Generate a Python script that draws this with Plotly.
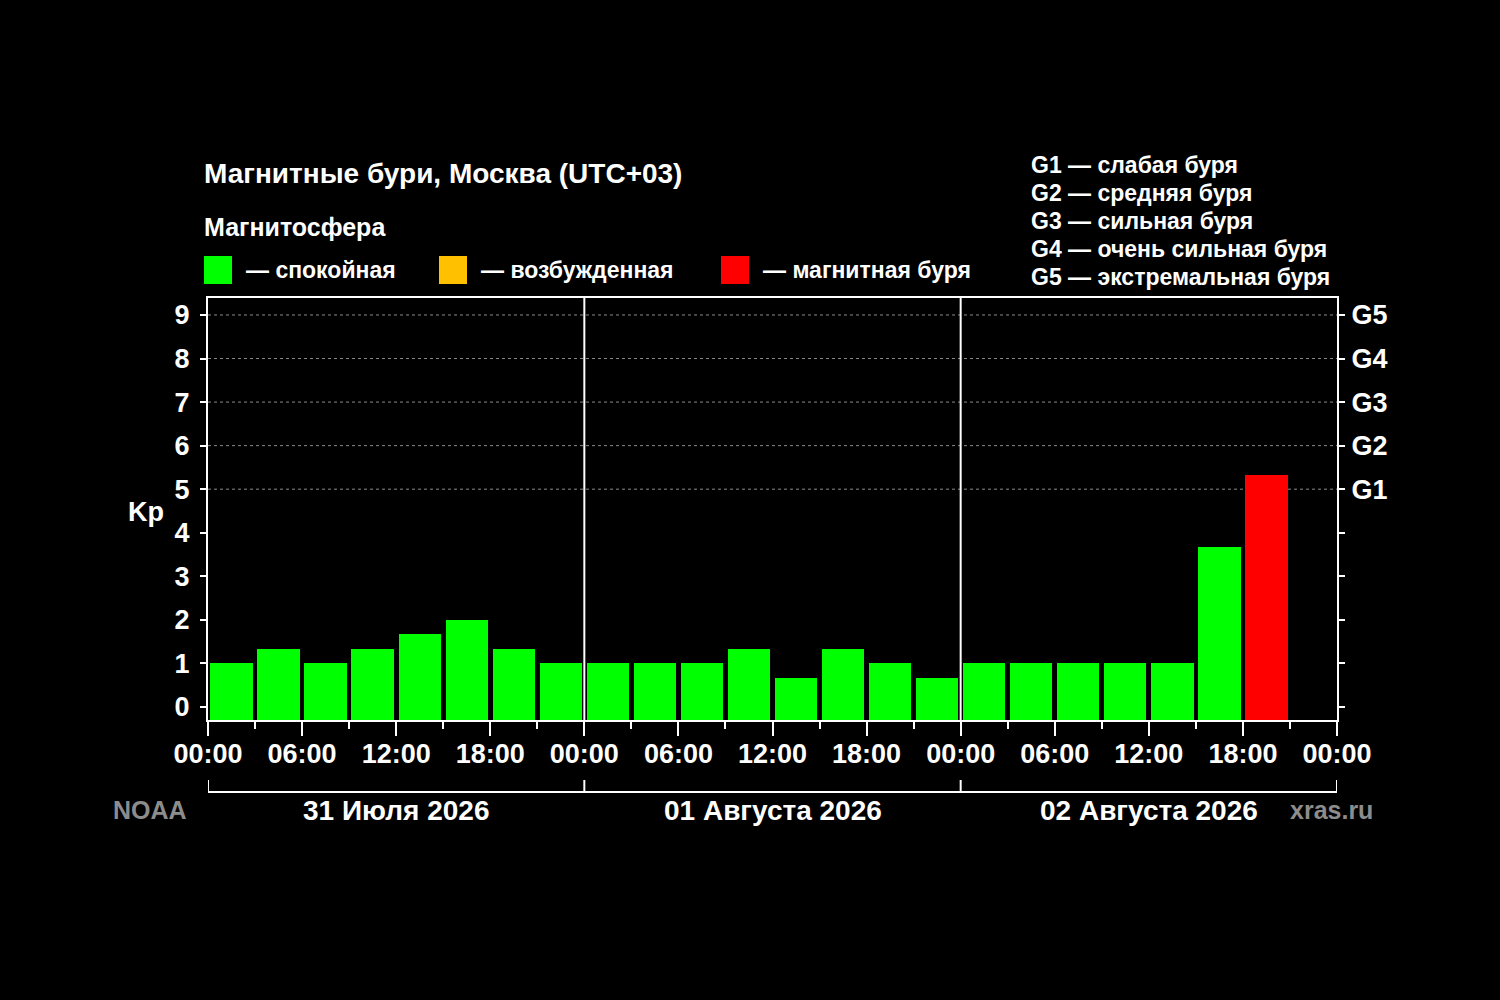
import plotly.graph_objects as go

# Kp index, 3-hour intervals, Moscow time (UTC+03)
kp_day1 = [1, 1.33, 1, 1.33, 1.67, 2, 1.33, 1]
kp_day2 = [1, 1, 1, 1.33, 0.67, 1.33, 1, 0.67]
kp_day3 = [1, 1, 1, 1, 1, 3.67, 5.33]
days = ["31 Июля 2026", "01 Августа 2026", "02 Августа 2026"]
hour_labels = ["00:00", "06:00", "12:00", "18:00"]
g_levels = ["G1", "G2", "G3", "G4", "G5"]
g_desc = ["слабая буря", "средняя буря", "сильная буря",
          "очень сильная буря", "экстремальная буря"]
legend_items = ["— спокойная", "— возбужденная", "— магнитная буря"]

GREEN = "#00ff00"
ORANGE = "#ffc000"
RED = "#ff0000"
FONT = "Liberation Sans, Arial, sans-serif"
Y_MIN, Y_MAX = -0.3, 9.39

# plot area in pixels
L, R, T, B = 208, 1337, 298, 720


def px(x):
    return (x - L) / (R - L)


def py(y):
    return (B - y) / (B - T)


kp = kp_day1 + kp_day2 + kp_day3
hours = [3 * i + 1.5 for i in range(len(kp))]
colors = [RED if v >= 5 else ORANGE if v >= 4 else GREEN for v in kp]

fig = go.Figure()
fig.add_trace(go.Bar(
    x=hours, y=[v - Y_MIN for v in kp], base=Y_MIN, width=2.7,
    marker=dict(color=colors, line=dict(width=0)),
    showlegend=False, hoverinfo="skip",
))
# invisible trace so the right axis is drawn
fig.add_trace(go.Scatter(x=[0], y=[0], yaxis="y2", mode="markers",
                         marker=dict(opacity=0), showlegend=False,
                         hoverinfo="skip"))

tick_font = dict(family=FONT, size=27, color="white", weight="bold")

xt = list(range(0, 73, 6))
xtext = [hour_labels[(v // 6) % 4] for v in xt]

fig.update_layout(
    width=1500, height=1000,
    paper_bgcolor="black", plot_bgcolor="black",
    margin=dict(l=L, r=1500 - R, t=T, b=1000 - B),
    bargap=0,
    xaxis=dict(
        range=[0, 72], tickvals=xt, ticktext=xtext,
        ticks="outside", ticklen=14, tickwidth=2, tickcolor="white",
        ticklabelstandoff=-5,
        minor=dict(dtick=3, tick0=0, ticks="outside", ticklen=7,
                   tickwidth=2, tickcolor="white"),
        showgrid=False, zeroline=False,
        showline=True, linecolor="white", linewidth=2, mirror=True,
        tickfont=tick_font,
    ),
    yaxis=dict(
        range=[Y_MIN, Y_MAX], tickvals=list(range(10)),
        ticks="outside", ticklen=6, tickwidth=2, tickcolor="white",
        ticklabelstandoff=5,
        showgrid=False, zeroline=False,
        showline=True, linecolor="white", linewidth=2, mirror=True,
        tickfont=tick_font,
    ),
    yaxis2=dict(
        range=[Y_MIN, Y_MAX], overlaying="y", side="right",
        tickvals=list(range(10)),
        ticktext=[""] * 5 + g_levels,
        ticks="outside", ticklen=7, tickwidth=2, tickcolor="white",
        ticklabelstandoff=1,
        showgrid=False, zeroline=False, showline=False,
        tickfont=tick_font,
    ),
)

shapes = []
# dashed grid for storm levels
for lv in range(5, 10):
    shapes.append(dict(type="line", xref="x", yref="y", x0=0, x1=72,
                       y0=lv, y1=lv, layer="below",
                       line=dict(color="#8a8a8a", width=1, dash="3px,3px")))
# day separators
for d in (24, 48):
    shapes.append(dict(type="line", xref="x", yref="paper", x0=d, x1=d,
                       y0=0, y1=1, line=dict(color="white", width=2)))
# day brackets under the axis
shapes.append(dict(type="line", xref="x", yref="paper", x0=0, x1=72,
                   y0=py(792), y1=py(792), line=dict(color="white", width=2)))
for d in (0, 24, 48, 72):
    shapes.append(dict(type="line", xref="x", yref="paper", x0=d, x1=d,
                       y0=py(780), y1=py(792), line=dict(color="white", width=2)))
# legend squares
for xl, c in zip((204, 439, 721), (GREEN, ORANGE, RED)):
    shapes.append(dict(type="rect", xref="paper", yref="paper",
                       x0=px(xl), x1=px(xl + 28), y0=py(256), y1=py(284),
                       fillcolor=c, line=dict(width=0)))
fig.update_layout(shapes=shapes)

ann = []


def text(x, y, s, size, color="white", xanchor="left", xref="paper"):
    ann.append(dict(x=x, y=y, xref=xref, yref="paper", text=f"<b>{s}</b>",
                    showarrow=False, xanchor=xanchor, yanchor="middle",
                    font=dict(family=FONT, size=size, color=color)))


text(px(202), py(173), "Магнитные бури, Москва (UTC+03)", 28)
text(px(202), py(227), "Магнитосфера", 25)
for xl, s in zip((244, 479, 761), legend_items):
    text(px(xl), py(270), s, 23)
for i, (g, d) in enumerate(zip(g_levels, g_desc)):
    text(px(1029), py(165 + 28 * i), f"{g} — {d}", 23)
text(px(146), py(512), "Kp", 27, xanchor="center")
for i, d in enumerate(days):
    text(12 + 24 * i, py(810), d, 28, xanchor="center", xref="x")
text(px(150), py(810), "NOAA", 25, color="#8c8c8c", xanchor="center")
text(px(1331), py(810), "xras.ru", 25, color="#8c8c8c", xanchor="center")
fig.update_layout(annotations=ann)

fig.write_html(
    "out.html",
    config={"displayModeBar": False},
    post_script="document.body.style.margin='0';"
                "document.body.style.background='black';",
)
